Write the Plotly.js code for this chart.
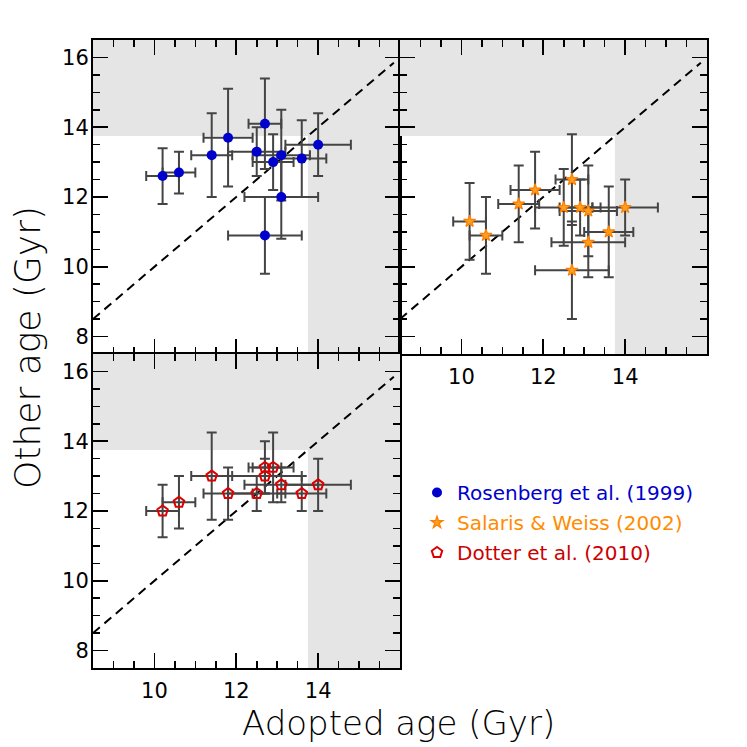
<!DOCTYPE html>
<html>
<head>
<meta charset="utf-8">
<script src="https://cdn.plot.ly/plotly-3.0.1.min.js"></script>
<style>
  html, body { margin: 0; padding: 0; background: #ffffff; }
  #chart { width: 747px; height: 747px; }
</style>
</head>
<body>
<div id="chart"></div>
<script>
// Adopted ages vs. literature ages (Gyr), 12 clusters
const adoptedAge = [10.2, 10.6, 11.4, 11.8, 12.5, 12.7, 12.7, 12.9, 13.1, 13.1, 13.6, 14.0];
const adoptedErr = [0.4, 0.4, 0.5, 0.6, 0.7, 0.4, 0.9, 0.5, 0.7, 0.9, 0.6, 0.8];

const rosenbergAge = [12.6, 12.7, 13.2, 13.7, 13.3, 14.1, 10.9, 13.0, 13.2, 12.0, 13.1, 13.5];
const rosenbergErr = [0.8, 0.6, 1.2, 1.4, 0.7, 1.3, 1.1, 0.8, 1.3, 1.2, 1.1, 0.9];

const salarisAge = [11.3, 10.9, 11.8, 12.2, 11.7, 12.5, 9.9, 11.7, 11.6, 10.7, 11.0, 11.7];
const salarisErr = [1.1, 1.1, 1.1, 1.1, 1.1, 1.3, 1.4, 0.8, 1.3, 1.0, 1.3, 0.8];

// Dotter et al. have no value for the 9th cluster
const dotterAge = [12.0, 12.25, 13.0, 12.5, 12.5, 13.25, 13.0, 13.25, null, 12.75, 12.5, 12.75];
const dotterErr = [0.75, 0.75, 1.25, 0.75, 0.5, 0.75, 0.5, 1.0, null, 0.5, 0.5, 0.75];

const UNIVERSE_AGE = 13.75;   // grey zones: older than the universe
const ONE_TO_ONE = [8.5, 15.85];
const X_RANGE = [8.5, 16];
const Y_RANGE = [7.5, 16.5];
const X_TICKS = [10, 12, 14];
const Y_TICKS = [8, 10, 12, 14, 16];

const FONT = 'DejaVu Sans, sans-serif';
const W = 747;
const px = v => v / W;            // pixel -> paper fraction (x)
const py = v => 1 - v / W;        // pixel -> paper fraction (y)

const panels = [
  { ax: '', name: 'Rosenberg et al. (1999)', y: rosenbergAge, err: rosenbergErr,
    color: '#0000cc', marker: { symbol: 'circle', size: 10, color: '#0000cc' } },
  { ax: '2', name: 'Salaris &amp; Weiss (2002)', y: salarisAge, err: salarisErr,
    color: '#ff8c00', marker: { symbol: 'star', size: 9, color: '#ffa020', line: { color: '#ff7f00', width: 1.2 } } },
  { ax: '3', name: 'Dotter et al. (2010)', y: dotterAge, err: dotterErr,
    color: '#cc0000', marker: { symbol: 'pentagon-open', size: 11, color: '#dd0000', line: { color: '#dd0000', width: 2 } } },
];

const data = [];
const shapes = [];

panels.forEach((p, i) => {
  const xa = 'x' + p.ax, ya = 'y' + p.ax;

  // one-to-one line
  data.push({
    type: 'scatter', mode: 'lines', xaxis: xa, yaxis: ya,
    x: ONE_TO_ONE, y: ONE_TO_ONE,
    line: { color: 'black', width: 2, dash: '9px,6px' },
    showlegend: false, hoverinfo: 'skip',
  });

  data.push({
    type: 'scatter', mode: 'markers', xaxis: xa, yaxis: ya,
    x: adoptedAge, y: p.y,
    name: `<span style="color:${p.color}">${p.name}</span>`,
    legendgroup: 'g' + i,
    marker: p.marker,
    error_x: { type: 'data', array: adoptedErr, color: '#444444', thickness: 2, width: 5 },
    error_y: { type: 'data', array: p.err, color: '#444444', thickness: 2, width: 5 },
  });

  // grey zones
  shapes.push({
    type: 'rect', xref: xa, yref: ya, layer: 'below',
    x0: X_RANGE[0], x1: X_RANGE[1], y0: UNIVERSE_AGE, y1: Y_RANGE[1],
    fillcolor: '#e5e5e5', line: { width: 0 },
  });
  shapes.push({
    type: 'rect', xref: xa, yref: ya, layer: 'below',
    x0: UNIVERSE_AGE, x1: X_RANGE[1], y0: Y_RANGE[0], y1: UNIVERSE_AGE,
    fillcolor: '#e5e5e5', line: { width: 0 },
  });
});

function axis(domain, range, tickvals, showLabels, anchor, standoff) {
  return {
    domain, range, anchor,
    showline: true, linecolor: 'black', linewidth: 2, mirror: 'allticks',
    ticks: 'inside', ticklen: 15, tickwidth: 1.6, tickcolor: 'black',
    tickmode: 'array', tickvals,
    minor: { dtick: 0.5, tick0: 0, ticks: 'inside', ticklen: 7, tickwidth: 1.6, tickcolor: 'black' },
    showgrid: false, zeroline: false,
    showticklabels: showLabels,
    ticklabelstandoff: standoff,
    tickfont: { family: FONT, size: 21, color: 'black' },
    fixedrange: true,
  };
}

const colL = [px(93), px(400)];
const colR = [px(400), px(707)];
const rowT = [py(354), py(40)];
const rowB = [py(668), py(354)];

const layout = {
  width: W, height: W,
  margin: { l: 0, r: 0, t: 0, b: 0 },
  paper_bgcolor: '#ffffff',
  plot_bgcolor: '#ffffff',
  font: { family: FONT, color: 'black' },
  xaxis: axis(colL, X_RANGE, X_TICKS, false, 'y', 3),
  yaxis: axis(rowT, Y_RANGE, Y_TICKS, true, 'x', -2),
  xaxis2: axis(colR, X_RANGE, X_TICKS, true, 'y2', 3),
  yaxis2: axis(rowT, Y_RANGE, Y_TICKS, false, 'x2', -2),
  xaxis3: axis(colL, X_RANGE, X_TICKS, true, 'y3', 3),
  yaxis3: axis(rowB, Y_RANGE, Y_TICKS, true, 'x3', -2),
  shapes,
  showlegend: true,
  legend: {
    x: px(417), y: py(473), xanchor: 'left', yanchor: 'top',
    bgcolor: 'rgba(0,0,0,0)', borderwidth: 0,
    font: { family: FONT, size: 20 },
    tracegroupgap: 1,
  },
  annotations: [
    {
      text: 'Adopted age (Gyr)', xref: 'paper', yref: 'paper',
      x: px(398), y: py(723), xanchor: 'center', yanchor: 'middle', showarrow: false,
      font: { family: FONT, size: 34, color: 'black', weight: 300 },
    },
    {
      text: 'Other age (Gyr)', xref: 'paper', yref: 'paper',
      x: px(27), y: py(348), xanchor: 'center', yanchor: 'middle', showarrow: false, textangle: -90,
      font: { family: FONT, size: 36, color: 'black', weight: 300 },
    },
  ],
};

Plotly.newPlot('chart', data, layout, { displayModeBar: false, staticPlot: true });
</script>
</body>
</html>
